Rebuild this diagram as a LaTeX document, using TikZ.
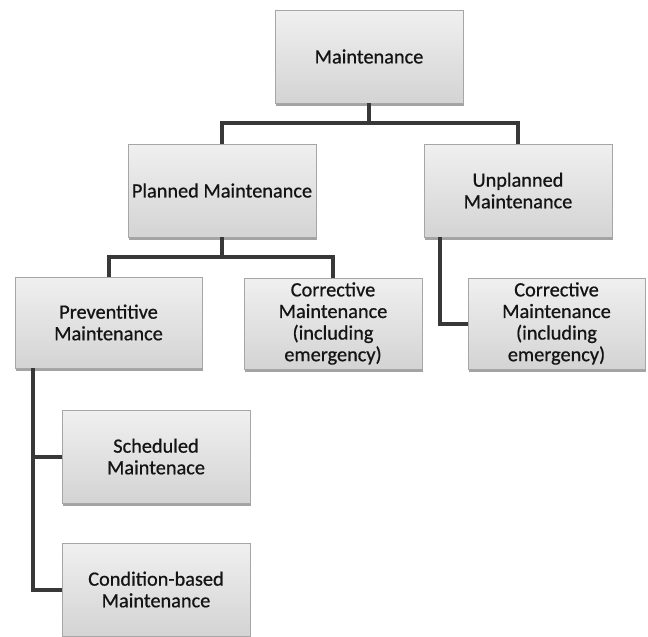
\documentclass[tikz,border=0pt]{standalone}
\usepackage{fontspec}
\setmainfont{Carlito}
\newfontfamily\boxfont{Carlito}[FakeBold=0.7]
\usetikzlibrary{shadows}
\begin{document}
\begin{tikzpicture}[x=1pt,y=-1pt,
  box/.style={draw=gray!70, line width=0.8pt, top color=gray!12, bottom color=gray!34,
    minimum width=188pt, minimum height=93pt, align=center, inner sep=1pt,
    font=\boxfont\fontsize{20.3}{21.6}\selectfont, text=black!92,
    drop shadow={shadow xshift=1pt, shadow yshift=-2.5pt, fill=black!60, opacity=0.6}},
  link/.style={draw=black!78, line width=4pt}]
\useasboundingbox (0,0) rectangle (648,637);

% boxes
\node[box] (maint) at (369,56.5) {Maintenance};
\node[box] (plan) at (222,190.5) {Planned Maintenance};
\node[box] (unpl) at (518,190.5) {Unplanned\\Maintenance};
\node[box, minimum width=187pt, minimum height=91pt] (prev) at (108.5,322.5) {Preventitive\\Maintenance};
\node[box, minimum width=178pt, minimum height=91pt] (corr) at (333,323.5) {Corrective\\Maintenance\\(including\\emergency)};
\node[box, minimum width=177pt, minimum height=91pt] (corrb) at (556.5,323.5) {Corrective\\Maintenance\\(including\\emergency)};
\node[box] (sched) at (156,456.5) {Scheduled\\Maintenace};
\node[box] (cond) at (156,589.5) {Condition-based\\Maintenance};

% connectors
\coordinate (j1) at (369,123);
\coordinate (j2) at (222,257);
\draw[link] (maint.south) -- (j1);
\draw[link] (j1) -| (plan.north);
\draw[link] (j1) -| (unpl.north);
\draw[link] (plan.south) -- (j2);
\draw[link] (j2) -| (prev.north);
\draw[link] (j2) -| (corr.north);
\draw[link] ([xshift=16pt]unpl.south west) |- (corrb.west);
\draw[link] ([xshift=18pt]prev.south west) |- (sched.west);
\draw[link] ([xshift=18pt]prev.south west) |- (cond.west);
\end{tikzpicture}
\end{document}
